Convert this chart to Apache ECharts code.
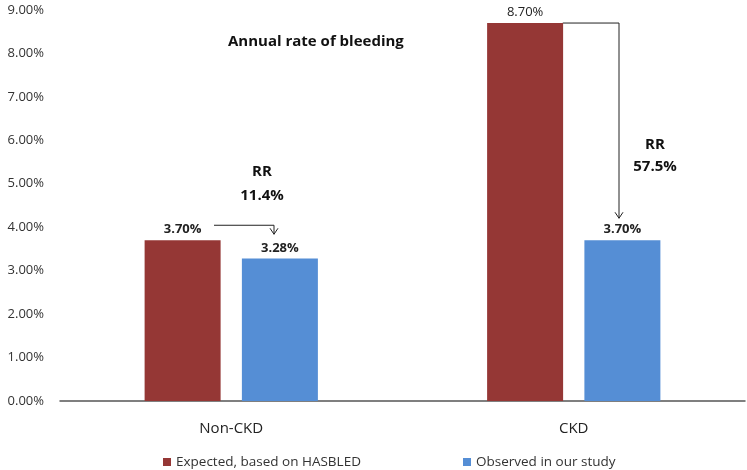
<!DOCTYPE html>
<html>
<head>
<meta charset="utf-8">
<script src="https://cdn.jsdelivr.net/npm/echarts@6/dist/echarts.min.js"></script>
<style>
  html, body { margin: 0; padding: 0; background: #fff; }
  #main { width: 747px; height: 470px; }
</style>
</head>
<body>
<div id="main"></div>
<script>
// 数据
var categories = ['Non-CKD', 'CKD'];
var expected = [3.70, 8.70];
var observed = [3.28, 3.70];
var seriesNames = ['Expected, based on HASBLED', 'Observed in our study'];
var rrLabels = ['RR\n11.4%', 'RR\n57.5%'];
var yTicks = [0, 1, 2, 3, 4, 5, 6, 7, 8, 9];

var font = "'Open Sans', 'DejaVu Sans', sans-serif";
var chart = echarts.init(document.getElementById('main'));

var option = {
    animation: false,
    textStyle: { fontFamily: font },
    grid: { left: 60, right: 2, top: 10, bottom: 69 },
    legend: [{
        data: [seriesNames[0]],
        left: 158, top: 450,
        icon: 'rect', itemWidth: 8, itemHeight: 8, itemGap: 10,
        textStyle: { fontSize: 13.5, color: '#333', fontFamily: font }
    }, {
        data: [seriesNames[1]],
        left: 458, top: 450,
        icon: 'rect', itemWidth: 8, itemHeight: 8,
        textStyle: { fontSize: 13.5, color: '#333', fontFamily: font }
    }],
    xAxis: {
        type: 'category',
        data: categories,
        axisLine: { lineStyle: { color: '#555', width: 1.5 } },
        axisTick: { show: false },
        axisLabel: { fontSize: 15, color: '#222', margin: 20 }
    },
    yAxis: {
        type: 'value',
        min: yTicks[0],
        max: yTicks[yTicks.length - 1],
        interval: 1,
        axisLine: { show: false },
        axisTick: { show: false },
        splitLine: { show: false },
        axisLabel: {
            fontSize: 13, color: '#333', margin: 16,
            formatter: function (v) { return v.toFixed(2) + '%'; }
        }
    },
    series: [{
        name: seriesNames[0],
        type: 'bar',
        data: expected.map(function (v, i) {
            return {
                value: v,
                label: { fontWeight: i === 0 ? 'bold' : 'normal' }
            };
        }),
        barWidth: 76,
        barGap: '28%',
        itemStyle: { color: '#953735' },
        label: {
            show: true, position: 'top', distance: 4,
            fontSize: 13, color: '#222',
            formatter: function (p) { return p.value.toFixed(2) + '%'; }
        }
    }, {
        name: seriesNames[1],
        type: 'bar',
        data: observed,
        barWidth: 76,
        itemStyle: { color: '#558ed5' },
        label: {
            show: true, position: 'top', distance: 4,
            fontSize: 13, color: '#222', fontWeight: 'bold',
            formatter: function (p) { return p.value.toFixed(2) + '%'; }
        }
    }]
};
chart.setOption(option);

// 注释: 标题, RR 文本, 箭头
var p0 = chart.convertToPixel({ gridIndex: 0 }, [0, expected[0]]);
var p1 = chart.convertToPixel({ gridIndex: 0 }, [1, expected[1]]);
var q1 = chart.convertToPixel({ gridIndex: 0 }, [1, observed[1]]);
var arrowStyle = { stroke: '#222', lineWidth: 1, fill: null };

function arrowHead(x, y) {
    return {
        type: 'polyline',
        shape: { points: [[x - 4, y - 6], [x, y], [x + 4, y - 6]] },
        style: arrowStyle
    };
}

chart.setOption({
    graphic: [{
        type: 'text', left: 228, top: 34,
        style: { text: 'Annual rate of bleeding', font: 'bold 15px ' + font, fill: '#111' }
    }, {
        type: 'text', x: 262, y: 160,
        style: { text: rrLabels[0], font: 'bold 15px ' + font, fill: '#111', align: 'center', lineHeight: 24 }
    }, {
        type: 'text', x: 655, y: 134,
        style: { text: rrLabels[1], font: 'bold 15px ' + font, fill: '#111', align: 'center', lineHeight: 22 }
    }, {
        type: 'polyline',
        shape: { points: [[214, p0[1] - 15], [274, p0[1] - 15], [274, p0[1] - 6]] },
        style: arrowStyle
    }, arrowHead(274, p0[1] - 6), {
        type: 'polyline',
        shape: { points: [[p1[0] - 11, p1[1]], [619, p1[1]], [619, q1[1] - 22]] },
        style: arrowStyle
    }, arrowHead(619, q1[1] - 22)]
});
</script>
</body>
</html>
